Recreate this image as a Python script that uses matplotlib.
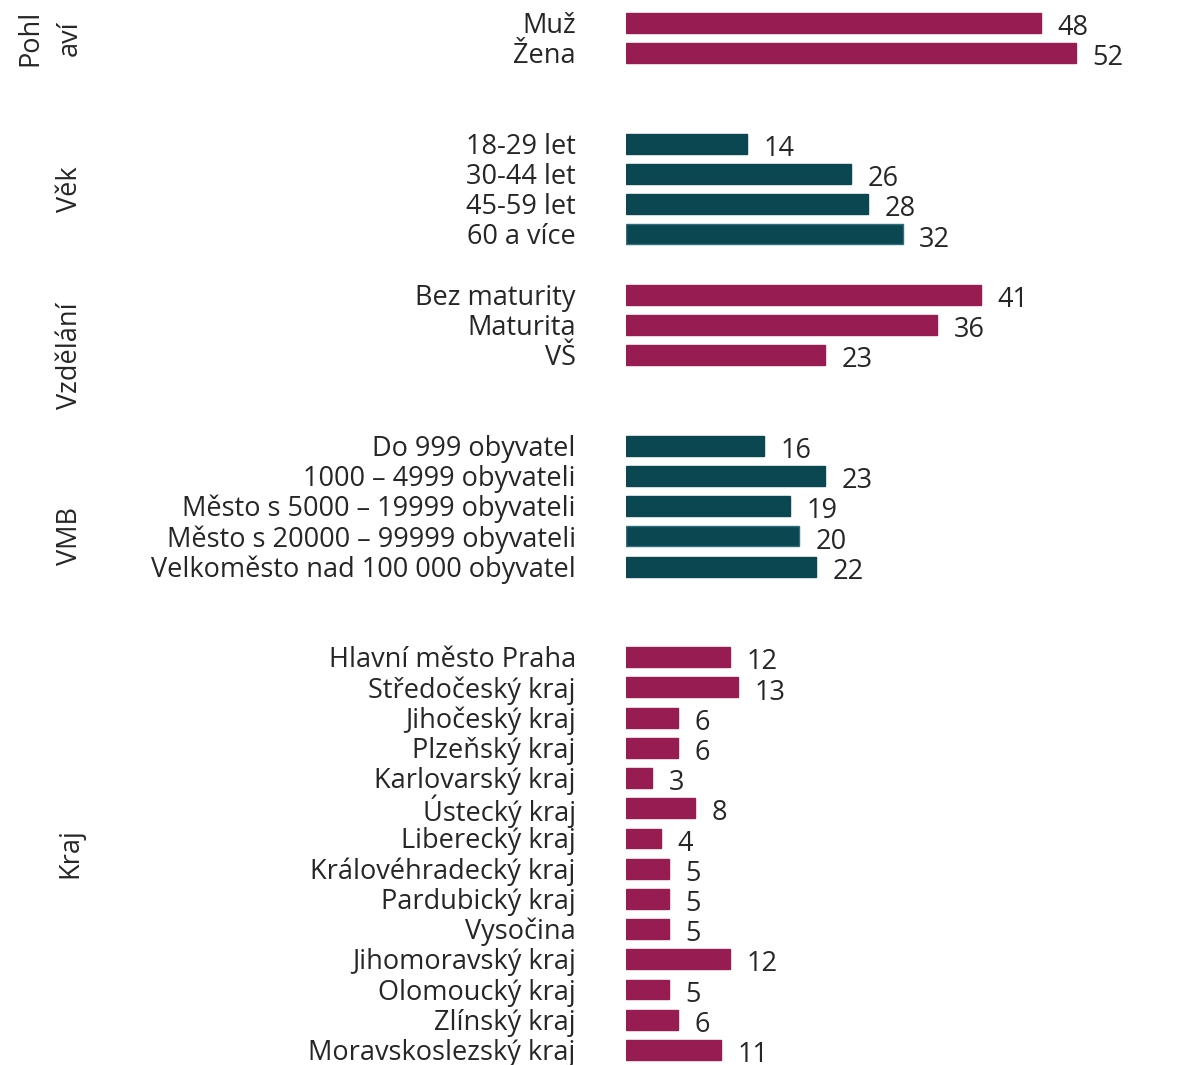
import matplotlib
matplotlib.use("Agg")
import matplotlib.pyplot as plt

plt.rcParams['font.family'] = ['Open Sans', 'DejaVu Sans']

# data
sex_labels = ["Muž", "Žena"]
sex_values = [48, 52]
age_labels = ["18-29 let", "30-44 let", "45-59 let", "60 a více"]
age_values = [14, 26, 28, 32]
edu_labels = ["Bez maturity", "Maturita", "VŠ"]
edu_values = [41, 36, 23]
vmb_labels = ["Do 999 obyvatel", "1000 – 4999 obyvateli", "Město s 5000 – 19999 obyvateli",
              "Město s 20000 – 99999 obyvateli", "Velkoměsto nad 100 000 obyvatel"]
vmb_values = [16, 23, 19, 20, 22]
kraj_labels = ["Hlavní město Praha", "Středočeský kraj", "Jihočeský kraj", "Plzeňský kraj",
               "Karlovarský kraj", "Ústecký kraj", "Liberecký kraj", "Královéhradecký kraj",
               "Pardubický kraj", "Vysočina", "Jihomoravský kraj", "Olomoucký kraj",
               "Zlínský kraj", "Moravskoslezský kraj"]
kraj_values = [12, 13, 6, 6, 3, 8, 4, 5, 5, 5, 12, 5, 6, 11]

magenta = "#961C52"
teal = "#0B4751"

# groups: (title, labels, values, colour, first row slot, title position)
groups = [
    ("Pohl\naví", sex_labels, sex_values, magenta, 0, 0.5),
    ("Věk", age_labels, age_values, teal, 4, 5.5),
    ("Vzdělání", edu_labels, edu_values, magenta, 9, 11.0),
    ("VMB", vmb_labels, vmb_values, teal, 14, 17.0),
    ("Kraj", kraj_labels, kraj_values, magenta, 21, 27.5),
]

fs = 19.5
fig = plt.figure(figsize=(12, 10.65), dpi=100)
ax = fig.add_axes([0.5217, 0.0, 0.4783, 1.0])
ax.set_xlim(0, 574 / 8.65)
ax.set_ylim(34.5, -0.76)
ax.axis("off")

txt = "#262626"
for title, labels, values, col, start, tpos in groups:
    ys = [start + i for i in range(len(values))]
    edges = [col] * len(values)
    if title in ("Věk", "VMB"):
        edges[3] = "#2E6F7B"
    ax.barh(ys, values, height=0.66, color=col, edgecolor=edges, linewidth=1)
    for y, v, lab in zip(ys, values, labels):
        ax.text(v + 1.9, y + 0.17, str(v), ha="left", va="center",
                fontsize=fs, color=txt)
        ax.text(-5.8, y + 0.1, lab, ha="right", va="center", fontsize=fs, color=txt)
    fy = 1 - (23 + tpos * 30.2) / 1065
    if "\n" in title:
        fig.text(30 / 1200, fy, "Pohl", rotation=90, ha="center", va="center",
                 fontsize=fs, color=txt)
        fig.text(70 / 1200, fy, "aví", rotation=90, ha="center", va="center",
                 fontsize=fs, color=txt)
    else:
        fig.text(70 / 1200, fy, title, rotation=90, ha="center", va="center",
                 fontsize=fs, color=txt)

fig.savefig("out.png", dpi=100)
